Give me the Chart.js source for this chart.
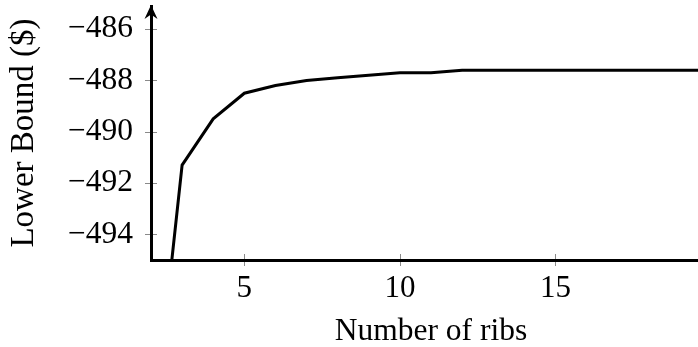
<!DOCTYPE html>
<html>
<head>
<meta charset="utf-8">
<style>
  html, body { margin: 0; padding: 0; background: #fff; overflow: hidden; width: 698px; height: 347px; }
  #wrap { width: 716px; height: 347px; }
</style>
<script src="https://cdn.jsdelivr.net/npm/chart.js@4/dist/chart.umd.min.js"></script>
</head>
<body>
<div id="wrap"><canvas id="c" width="716" height="347"></canvas></div>
<script>
// Lower bound on cost as more ribs are added
const ribs = [2, 3, 4, 5, 6, 7, 8, 9, 10, 11, 12, 13, 14, 15, 16, 17, 18, 19, 20];
const lowerBound = [-502.5, -491.3, -489.5, -488.5, -488.2, -488.0, -487.9, -487.8, -487.7, -487.7,
                    -487.6, -487.6, -487.6, -487.6, -487.6, -487.6, -487.6, -487.6, -487.6];
const xTicks = [5, 10, 15];
const yTicks = [-494, -492, -490, -488, -486];

const serif = '"Liberation Serif", "DejaVu Serif", serif';
const fmt = v => (v < 0 ? '\u2212' + Math.abs(v) : String(v));

// small grey tick marks straddling each axis line
const crossTicks = {
  id: 'crossTicks',
  beforeDraw(chart) {
    const { ctx, chartArea: a, scales: { x, y } } = chart;
    ctx.save();
    ctx.strokeStyle = '#8a8a8a';
    ctx.lineWidth = 1;
    ctx.beginPath();
    y.ticks.forEach(t => {
      const py = Math.round(y.getPixelForValue(t.value)) + 0.5;
      ctx.moveTo(a.left - 6, py); ctx.lineTo(a.left + 6, py);
    });
    x.ticks.forEach(t => {
      const px = Math.round(x.getPixelForValue(t.value)) + 0.5;
      ctx.moveTo(px, a.bottom - 6); ctx.lineTo(px, a.bottom + 6);
    });
    ctx.stroke();
    ctx.restore();
  }
};

// arrow heads at the ends of both axes
function arrowHead(ctx, tx, ty, angle) {
  ctx.save();
  ctx.translate(tx, ty);
  ctx.rotate(angle);
  ctx.beginPath();
  ctx.moveTo(0, 0);
  ctx.lineTo(-14, 6.5);
  ctx.lineTo(-9.5, 0);
  ctx.lineTo(-14, -6.5);
  ctx.closePath();
  ctx.fill();
  ctx.restore();
}
const axisArrows = {
  id: 'axisArrows',
  afterDraw(chart) {
    const { ctx, chartArea: a } = chart;
    ctx.save();
    ctx.fillStyle = '#000';
    arrowHead(ctx, a.left, a.top - 1, -Math.PI / 2);
    arrowHead(ctx, a.right + 1, a.bottom, 0);
    ctx.restore();
  }
};

new Chart(document.getElementById('c'), {
  type: 'line',
  data: {
    datasets: [{
      data: ribs.map((r, i) => ({ x: r, y: lowerBound[i] })),
      borderColor: '#000',
      borderWidth: 3,
      pointRadius: 0,
      tension: 0,
      fill: false
    }]
  },
  options: {
    responsive: false,
    animation: false,
    devicePixelRatio: 1,
    layout: { padding: { top: 6, right: 5, left: 0, bottom: 0 } },
    plugins: { legend: { display: false }, tooltip: { enabled: false } },
    scales: {
      x: {
        type: 'linear',
        position: 'bottom',
        min: 2,
        max: 20,
        grid: { display: false, drawTicks: false },
        border: { display: true, color: '#000', width: 3 },
        afterBuildTicks: s => { s.ticks = xTicks.map(v => ({ value: v })); },
        afterFit: s => { s.height = 87; s.paddingLeft = 0; s.paddingRight = 0; },
        ticks: { color: '#000', font: { family: serif, size: 31 }, padding: 10, maxRotation: 0, callback: fmt },
        title: {
          display: true,
          text: 'Number of ribs',
          color: '#000',
          font: { family: serif, size: 31.5, lineHeight: 1 },
          padding: { top: 0, bottom: 0 }
        }
      },
      y: {
        type: 'linear',
        min: -495,
        max: -485.1,
        grid: { display: false, drawTicks: false },
        border: { display: true, color: '#000', width: 3 },
        afterBuildTicks: s => { s.ticks = yTicks.map(v => ({ value: v })); },
        afterFit: s => { s.width = 151; s.paddingTop = 0; s.paddingBottom = 0; },
        ticks: { color: '#000', font: { family: serif, size: 31.5 }, padding: 18, callback: fmt },
        title: {
          display: true,
          text: 'Lower Bound ($)',
          color: '#000',
          font: { family: serif, size: 33 },
          padding: { top: 5, bottom: 0 }
        }
      }
    }
  },
  plugins: [crossTicks, axisArrows]
});
</script>
</body>
</html>
